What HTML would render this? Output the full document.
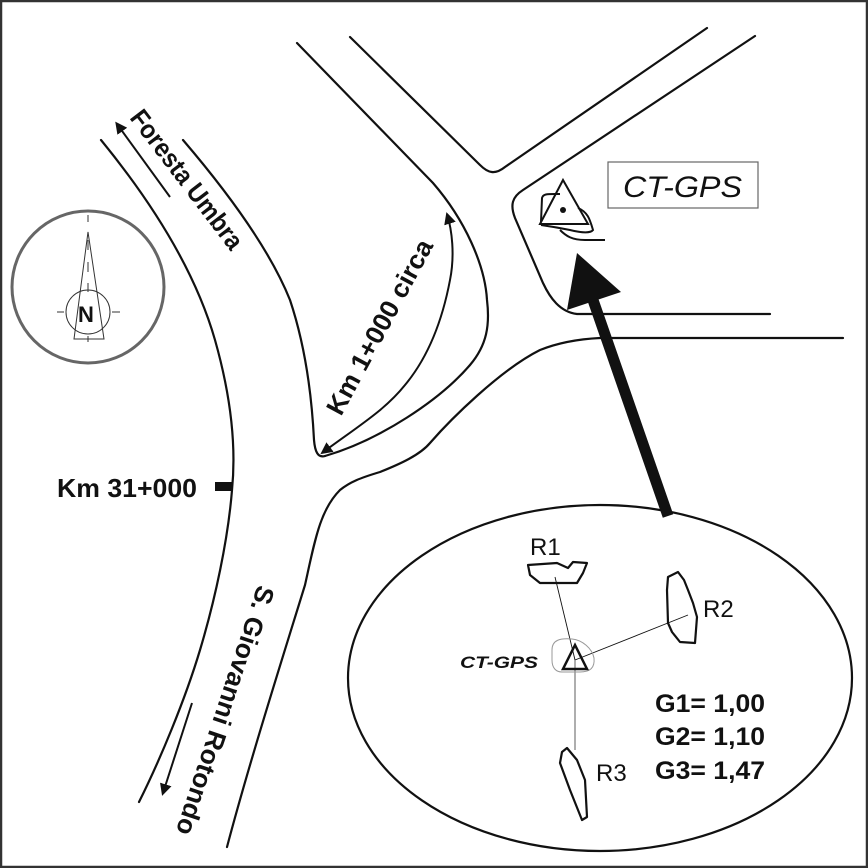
<!DOCTYPE html>
<html><head><meta charset="utf-8"><style>
html,body{margin:0;padding:0;background:#fff}
svg{display:block}
text{font-family:"Liberation Sans",Arial,sans-serif;fill:#111}
</style></head><body>
<svg width="868" height="868" viewBox="0 0 868 868" xmlns="http://www.w3.org/2000/svg">
<defs>
<marker id="ah" markerWidth="12" markerHeight="12" refX="9" refY="6" orient="auto" markerUnits="userSpaceOnUse">
<path d="M0,0 L12,6 L0,12 z" fill="#111"/>
</marker>
<marker id="ahs" markerWidth="12" markerHeight="12" refX="10" refY="6" orient="auto-start-reverse" markerUnits="userSpaceOnUse">
<path d="M0,0 L12,6 L0,12 z" fill="#111"/>
</marker>
</defs>
<rect x="1" y="1" width="866" height="866" fill="#fff" stroke="#333" stroke-width="2.5"/>
<g fill="none" stroke="#111" stroke-width="2.2" stroke-linecap="round">
<path d="M101,140 C150,200 195,270 215,340 C232,400 236,450 232,490 C228,540 215,600 200,650 C185,700 160,760 139,802"/>
<path d="M183,140 C230,195 270,250 290,300 C310,360 313,420 314,440 C315,452 318,458 325,456"/>
<path d="M297,43 L433,183 C465,220 485,265 487,300 C490,325 487,345 470,365 C440,400 380,440 325,456"/>
<path d="M227,847 C250,760 285,650 305,585 C315,540 320,510 340,490 C350,482 360,478 380,472 C400,464 420,455 430,443 C450,420 500,370 540,350 C560,342 580,339 600,338 L843,338"/>
<path d="M350,37 L480,165 C488,173 495,175 505,167 L707,28"/>
<path d="M755,36 L523,190 C512,197 510,205 515,218 L543,283 C550,298 560,312 577,314 L770,314"/>
<ellipse cx="600" cy="678" rx="252" ry="173"/>
</g>
<g fill="none" stroke="#666">
<circle cx="88" cy="287" r="76" stroke-width="3"/>
</g>
<g fill="none" stroke="#333" stroke-width="1">
<circle cx="88" cy="312" r="22"/>
<path d="M88,232 L74,339 L104,339 Z"/>
<path d="M88,215 L88,222 M88,240 L88,250 M88,262 L88,272 M88,283 L88,292 M88,336 L88,342 M57,312 L64,312 M112,312 L120,312"/>
</g>
<text x="78" y="322" font-size="22" font-weight="bold">N</text>
<line x1="170" y1="197" x2="117" y2="124" stroke="#111" stroke-width="2" marker-end="url(#ah)"/>
<text transform="translate(129,118) rotate(52.7)" font-size="26" font-weight="bold" textLength="168" lengthAdjust="spacingAndGlyphs">Foresta Umbra</text>
<path d="M322,453 C360,425 385,410 405,385 C430,355 443,317 450,280 C455,255 452,230 447,214" fill="none" stroke="#111" stroke-width="2" marker-start="url(#ahs)" marker-end="url(#ahs)"/>
<text transform="translate(341,417) rotate(-61.6)" font-size="26" font-weight="bold" textLength="195" lengthAdjust="spacingAndGlyphs">Km 1+000 circa</text>
<text x="57" y="497" font-size="26" font-weight="bold" textLength="140" lengthAdjust="spacingAndGlyphs">Km 31+000</text>
<rect x="215" y="482" width="17" height="9" fill="#111"/>
<line x1="192" y1="703" x2="163" y2="793" stroke="#111" stroke-width="2" marker-end="url(#ah)"/>
<text transform="translate(258,584) rotate(108.4)" font-size="26" font-weight="bold" textLength="261" lengthAdjust="spacingAndGlyphs">S. Giovanni Rotondo</text>
<rect x="608" y="162" width="150" height="46" fill="none" stroke="#666" stroke-width="1.2"/>
<text x="623" y="197" font-size="30" font-style="italic" textLength="119" lengthAdjust="spacingAndGlyphs">CT-GPS</text>
<g fill="none" stroke="#111" stroke-width="2">
<path d="M563,180 L540,224 L588,224 Z"/>
<path d="M541,222 L542,198 C543,194 547,194 555,194 L560,194"/>
<path d="M578,208 C588,212 590,220 593,230 C590,234 578,232 570,230 C560,228 548,226 541,225"/>
<path d="M560,230 C566,236 572,240 585,240 L605,240"/>
</g>
<circle cx="563" cy="210" r="3" fill="#111"/>
<line x1="668" y1="516" x2="593" y2="300" stroke="#111" stroke-width="11"/>
<path d="M577,253 L567,310 L621,292 Z" fill="#111"/>
<g fill="none" stroke="#111" stroke-width="2.2" stroke-linejoin="round">
<path d="M528,565 L557,563 L568,568 L573,562 L587,563 L583,573 L577,583 L540,583 L530,575 Z"/>
<path d="M668,577 L678,572 L684,580 L688,590 L693,603 L697,617 L695,643 L680,642 L672,632 L668,623 L667,590 Z"/>
<path d="M562,752 L567,748 L577,760 L585,780 L587,817 L582,820 L576,805 L570,790 L560,763 Z"/>
</g>
<g fill="none" stroke="#111" stroke-width="0.9">
<line x1="555" y1="577" x2="575" y2="660"/>
<line x1="688" y1="615" x2="575" y2="660"/>
</g>
<line x1="575" y1="660" x2="575" y2="750" stroke="#777" stroke-width="1.2"/>
<path d="M552,650 C552,640 560,638 572,639 C582,640 592,648 594,658 C595,668 590,672 580,672 L562,672 C556,672 552,668 552,660 Z" fill="none" stroke="#999" stroke-width="1"/>
<path d="M575,645 L563,669 L587,669 Z" fill="none" stroke="#111" stroke-width="2.5"/>
<text x="460" y="668" font-size="17" font-weight="bold" font-style="italic" textLength="78" lengthAdjust="spacingAndGlyphs">CT-GPS</text>
<text x="530" y="555" font-size="24">R1</text>
<text x="703" y="617" font-size="24">R2</text>
<text x="596" y="781" font-size="24">R3</text>
<text x="655" y="712" font-size="25" font-weight="bold" textLength="110" lengthAdjust="spacingAndGlyphs">G1= 1,00</text>
<text x="655" y="745" font-size="25" font-weight="bold" textLength="110" lengthAdjust="spacingAndGlyphs">G2= 1,10</text>
<text x="655" y="779" font-size="25" font-weight="bold" textLength="110" lengthAdjust="spacingAndGlyphs">G3= 1,47</text>
</svg>
</body></html>
